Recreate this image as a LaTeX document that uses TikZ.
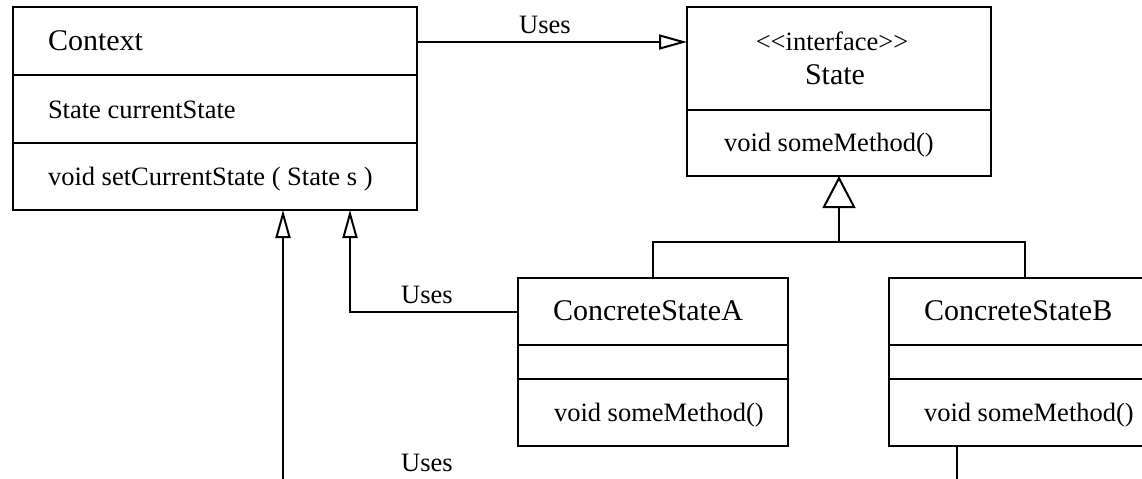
\documentclass[tikz,border=0pt]{standalone}
\usepackage{fontspec}
\newfontfamily\serif{Liberation Serif}
\usetikzlibrary{arrows.meta,calc}
\begin{document}
\begin{tikzpicture}[x=0.5pt,y=-0.5pt, line width=1pt,
  box/.style={draw, line width=1pt, inner sep=0pt, outer sep=0pt, anchor=north west},
  titletxt/.style={font=\serif\fontsize{15}{18}\selectfont, anchor=base west, inner sep=0pt},
  bodytxt/.style={font=\serif\fontsize{13.25}{16}\selectfont, anchor=base west, inner sep=0pt},
  lbl/.style={font=\serif\fontsize{13.25}{16}\selectfont, anchor=base, inner sep=0pt},
  usesarrow/.style={-{Triangle[open,length=14pt,width=7.5pt]}},
  inherit/.style={-{Triangle[open,length=16pt,width=16.5pt]}}]
\useasboundingbox (0,0) rectangle (1142,478);
\clip (0,0) rectangle (1142,478);

% Context class
\node[box, minimum width=202pt, minimum height=101.5pt] (ctx) at (13,7) {};
\draw (13,75) -- (417,75);
\draw (13,143) -- (417,143);
\node[titletxt] (ctxT) at (47,50) {Context};
\node[bodytxt] (ctxA) at (47,118) {State currentState};
\node[bodytxt] (ctxM) at (47,185) {void setCurrentState ( State s )};

% State interface
\node[box, minimum width=152pt, minimum height=84.5pt] (state) at (687,7) {};
\draw (687,110) -- (991,110);
\node[bodytxt, anchor=base] (stS) at (832,50) {<<interface>>};
\node[titletxt, anchor=base] (stT) at (835,84) {State};
\node[bodytxt] (stM) at (723,151) {void someMethod()};

% ConcreteStateA
\node[box, minimum width=135pt, minimum height=84pt] (a) at (518,278) {};
\draw (518,345) -- (788,345);
\draw (518,379) -- (788,379);
\node[titletxt] (aT) at (552,320) {ConcreteStateA};
\node[bodytxt] (aM) at (553,421) {void someMethod()};

% ConcreteStateB
\node[box, minimum width=135.5pt, minimum height=84pt] (b) at (889,278) {};
\draw (889,345) -- (1160,345);
\draw (889,379) -- (1160,379);
\node[titletxt] (bT) at (923,320) {ConcreteStateB};
\node[bodytxt] (bM) at (923,421) {void someMethod()};

% Context uses State
\draw[usesarrow] ($(ctx.north east)+(0,35)$) -- ($(state.north west)+(0,35)$);
\node[lbl] (u1) at (545,33) {Uses};

% inheritance tree
\coordinate (j) at (state.south |- 0,242);
\draw[inherit] (j) -- (state.south);
\draw (a.north) |- (j) -| (b.north);

% ConcreteStateA uses Context
\coordinate (ka) at ($(ctx.south east)+(-67,0)$);
\draw[usesarrow] ($(a.north west)+(0,34)$) -| (ka);
\node[lbl] (u2) at (427,303) {Uses};

% ConcreteStateB uses Context (runs below the visible area)
\coordinate (lowL) at (283,500);
\coordinate (lowR) at (957,500);
\draw[usesarrow] (lowL) -- (ctx.south -| lowL);
\draw (b.south -| lowR) -- (lowR);
\node[lbl] (u3) at (427,471) {Uses};
\end{tikzpicture}
\end{document}
